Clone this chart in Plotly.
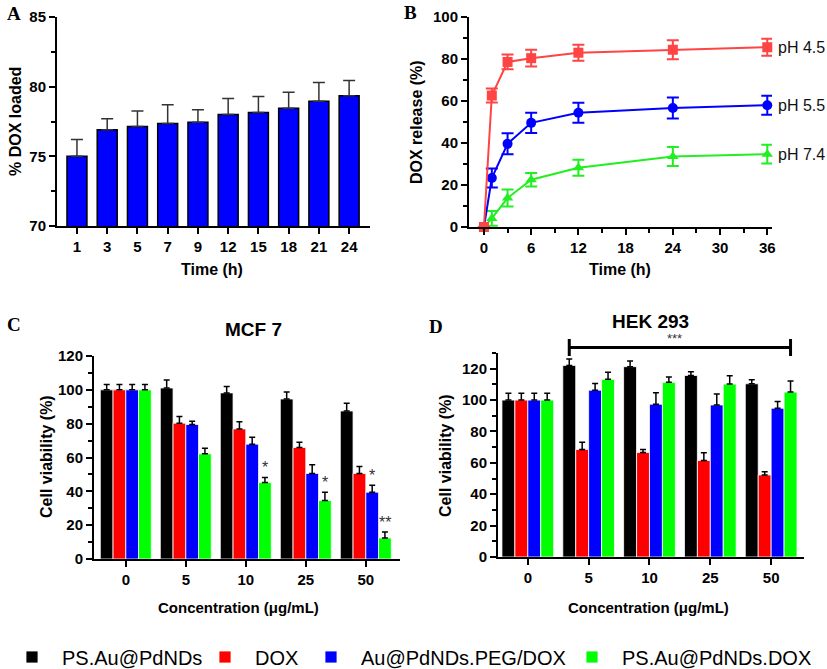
import plotly.graph_objects as go

W, H = 827, 669
FONT = "Liberation Sans, Arial, sans-serif"
SERIF = "Liberation Serif, Times New Roman, serif"

# ---------------- data ----------------
# Panel A
a_times = ["1", "3", "5", "7", "9", "12", "15", "18", "21", "24"]
a_loaded = [75.0, 76.9, 77.15, 77.35, 77.45, 78.0, 78.15, 78.45, 78.95, 79.35]
a_err = [1.2, 0.8, 1.1, 1.35, 0.9, 1.15, 1.15, 1.15, 1.35, 1.1]

# Panel B
b_time = [0, 1, 3, 6, 12, 24, 36]
b_ph45 = [0, 62.6, 78.6, 80.4, 83.0, 84.4, 85.6]
b_ph45_err = [0, 3.3, 3.5, 4.0, 3.8, 4.5, 4.0]
b_ph55 = [0, 23.3, 39.6, 49.6, 54.4, 56.7, 58.0]
b_ph55_err = [0, 4.5, 5.0, 4.8, 4.8, 5.0, 4.5]
b_ph74 = [0, 4.1, 13.8, 22.5, 28.2, 33.6, 34.7]
b_ph74_err = [0, 3.5, 4.0, 3.2, 3.8, 4.5, 4.5]
b_labels = ["pH 4.5", "pH 5.5", "pH 7.4"]

# Panels C and D
conc = ["0", "5", "10", "25", "50"]
series_names = ["PS.Au@PdNDs", "DOX", "Au@PdNDs.PEG/DOX", "PS.Au@PdNDs.DOX"]
series_colors = ["#000000", "#ff0000", "#0000ff", "#00ff00"]

c_ps = [100, 101.1, 98.2, 94.6, 87.5]
c_ps_err = [3.1, 4.7, 3.7, 4.1, 4.5]
c_dox = [100, 80.3, 76.9, 65.9, 50.6]
c_dox_err = [3.1, 4.0, 4.3, 3.1, 4.1]
c_peg = [100, 79.5, 67.9, 50.6, 39.5]
c_peg_err = [3.1, 2.0, 4.1, 5.1, 4.1]
c_psdox = [100, 62.2, 45.2, 34.6, 12.4]
c_psdox_err = [3.1, 3.3, 3.0, 4.9, 3.5]
c_stars = [(3, 2, "*"), (3, 3, "*"), (2, 4, "*"), (3, 4, "**")]

d_ps = [100, 122.1, 121.3, 115.7, 110.4]
d_ps_err = [4.3, 4.0, 3.6, 2.3, 2.6]
d_dox = [100, 68.5, 66.6, 61.5, 52.3]
d_dox_err = [4.3, 4.7, 1.9, 4.9, 2.1]
d_peg = [100, 106.3, 97.4, 96.9, 94.8]
d_peg_err = [4.3, 4.3, 7.2, 6.9, 4.3]
d_psdox = [100, 113.2, 111.3, 110.2, 105.1]
d_psdox_err = [4.3, 4.5, 3.4, 5.3, 7.0]
d_sig = "***"

# ---------------- layout helpers ----------------
def px(x):
    return x / W


def py(y):
    return 1 - y / H


dom = {
    "A": ([px(57), px(370)], [py(226), py(17)]),
    "B": ([px(469), px(772)], [py(227), py(17)]),
    "C": ([px(94), px(400)], [py(559), py(356)]),
    "D": ([px(498), px(804)], [py(557), py(353)]),
}
rng_x = {"A": [-0.66, 9.69], "B": [-1.9, 36.6], "C": [-0.53, 4.57], "D": [-0.49, 4.54]}
rng_y = {"A": [70, 85], "B": [0, 100], "C": [0, 120], "D": [0, 130]}
BARGAP = 0.15

fig = go.Figure()

# Panel A
fig.add_trace(go.Bar(
    x=list(range(len(a_times))), y=a_loaded, width=0.66,
    marker=dict(color="#0000ff", line=dict(color="#000000", width=1.5)),
    error_y=dict(type="data", array=a_err, arrayminus=[0] * len(a_err), symmetric=False,
                 color="#333333", thickness=1.5, width=6),
    xaxis="x", yaxis="y", showlegend=False))

# Panel B
b_sets = [
    (b_ph74, b_ph74_err, "#22ee22", "triangle-up"),
    (b_ph55, b_ph55_err, "#0000ff", "circle"),
    (b_ph45, b_ph45_err, "#ff4444", "square"),
]
for vals, errs, col, sym in b_sets:
    fig.add_trace(go.Scatter(
        x=b_time, y=vals, mode="lines+markers",
        line=dict(color=col, width=2), marker=dict(color=col, symbol=sym, size=10),
        error_y=dict(type="data", array=errs, color=col, thickness=2, width=6),
        xaxis="x2", yaxis="y2", showlegend=False, cliponaxis=False))

# Panels C and D
c_all = [(c_ps, c_ps_err), (c_dox, c_dox_err), (c_peg, c_peg_err), (c_psdox, c_psdox_err)]
d_all = [(d_ps, d_ps_err), (d_dox, d_dox_err), (d_peg, d_peg_err), (d_psdox, d_psdox_err)]
for i, ((cv, ce), (dv, de)) in enumerate(zip(c_all, d_all)):
    leg = "legend" if i == 0 else "legend%d" % (i + 1)
    fig.add_trace(go.Bar(
        x=list(range(len(conc))), y=cv, name=series_names[i],
        marker=dict(color=series_colors[i], line=dict(color="white", width=0.8)),
        error_y=dict(type="data", array=ce, arrayminus=[0] * len(ce), symmetric=False,
                     color="#000000", thickness=1.5, width=3),
        xaxis="x3", yaxis="y3", legend=leg, showlegend=True))
    fig.add_trace(go.Bar(
        x=list(range(len(conc))), y=dv, name=series_names[i],
        marker=dict(color=series_colors[i], line=dict(color="white", width=0.8)),
        error_y=dict(type="data", array=de, arrayminus=[0] * len(de), symmetric=False,
                     color="#000000", thickness=1.5, width=3),
        xaxis="x4", yaxis="y4", showlegend=False))


def bar_offset(j, n=4):
    gw = 1 - BARGAP
    return -gw / 2 + (j + 0.5) * gw / n


annotations = []
# stars in C
for j, g, txt in c_stars:
    vals, errs = c_all[j]
    annotations.append(dict(x=g + bar_offset(j), y=vals[g] + errs[g], xref="x3", yref="y3",
                            text=txt, showarrow=False, yanchor="bottom", yshift=-1,
                            font=dict(family=FONT, size=16, color="#333333")))

# pH labels in B
for lab_txt, vals in zip(b_labels, [b_ph45, b_ph55, b_ph74]):
    annotations.append(dict(x=b_time[-1], y=vals[-1], xref="x2", yref="y2", text=lab_txt,
                            showarrow=False, xanchor="left", xshift=9,
                            font=dict(family=FONT, size=16, color="#111111")))


def d2p_x(key, v):
    (d0, d1), r = dom[key][0], rng_x[key]
    return d0 + (v - r[0]) / (r[1] - r[0]) * (d1 - d0)


def d2p_y(key, v):
    (d0, d1), r = dom[key][1], rng_y[key]
    return d0 + (v - r[0]) / (r[1] - r[0]) * (d1 - d0)


# bracket in D
bx0 = d2p_x("D", 1 + bar_offset(0))
bx1 = d2p_x("D", 4 + bar_offset(3))
by = d2p_y("D", 133.5)
cap = 8.5 / H
shapes = [
    dict(type="line", xref="paper", yref="paper", x0=bx0, x1=bx1, y0=by, y1=by,
         line=dict(color="#000000", width=3)),
    dict(type="line", xref="paper", yref="paper", x0=bx0, x1=bx0, y0=by - cap, y1=by + cap,
         line=dict(color="#000000", width=3)),
    dict(type="line", xref="paper", yref="paper", x0=bx1, x1=bx1, y0=by - cap, y1=by + cap,
         line=dict(color="#000000", width=3)),
]
annotations.append(dict(x=(bx0 + bx1) / 2 + px(4), y=by, xref="paper", yref="paper", text=d_sig,
                        showarrow=False, yanchor="bottom", yshift=0,
                        font=dict(family=FONT, size=13, color="#333333")))


# titles / labels
def lab(text, x, y, size=16, angle=0, bold=True, family=FONT):
    annotations.append(dict(x=px(x), y=py(y), xref="paper", yref="paper", text=text,
                            showarrow=False, textangle=angle, xanchor="center", yanchor="middle",
                            font=dict(family=family, size=size, color="#000000",
                                      weight="bold" if bold else "normal")))


lab("% DOX loaded", 15, 122, angle=-90)
lab("Time (h)", 212, 269)
lab("DOX release (%)", 416, 122, angle=-90)
lab("Time (h)", 620, 269)
lab("Cell viability (%)", 46, 457, angle=-90)
lab("Concentration (μg/mL)", 238, 607, size=15)
lab("Cell viability (%)", 445, 455, angle=-90)
lab("Concentration (μg/mL)", 648, 607, size=15)
lab("MCF 7", 253, 329, size=19)
lab("HEK 293", 650, 321, size=19)
lab("A", 14, 13, size=19, family=SERIF)
lab("B", 410, 12, size=19, family=SERIF)
lab("C", 14, 324, size=19, family=SERIF)
lab("D", 436, 326, size=19, family=SERIF)

TICKF = dict(family=FONT, size=15, color="#000000", weight="bold")
axis_common = dict(showline=True, linecolor="#000000", linewidth=2, ticks="outside",
                   tickcolor="#000000", tickwidth=2, ticklen=6, showgrid=False,
                   zeroline=False, tickfont=TICKF, fixedrange=True)
MINOR = dict(ticks="outside", ticklen=4, tickwidth=2, tickcolor="#000000")

layout = dict(
    width=W, height=H, margin=dict(l=0, r=0, t=0, b=0, autoexpand=False),
    paper_bgcolor="white", plot_bgcolor="white",
    barmode="group", bargap=BARGAP, bargroupgap=0,
    annotations=annotations, shapes=shapes,
    xaxis=dict(axis_common, domain=dom["A"][0], range=rng_x["A"], anchor="y",
               tickvals=list(range(len(a_times))), ticktext=a_times),
    yaxis=dict(axis_common, domain=dom["A"][1], range=rng_y["A"], anchor="x",
               tickvals=[70, 75, 80, 85], minor=dict(MINOR, dtick=2.5, tick0=70)),
    xaxis2=dict(axis_common, domain=dom["B"][0], range=rng_x["B"], anchor="y2",
                tickvals=[0, 6, 12, 18, 24, 30, 36], minor=dict(MINOR, dtick=3, tick0=0)),
    yaxis2=dict(axis_common, domain=dom["B"][1], range=rng_y["B"], anchor="x2",
                tickvals=[0, 20, 40, 60, 80, 100], minor=dict(MINOR, dtick=10, tick0=0)),
    xaxis3=dict(axis_common, domain=dom["C"][0], range=rng_x["C"], anchor="y3",
                tickvals=list(range(len(conc))), ticktext=conc),
    yaxis3=dict(axis_common, domain=dom["C"][1], range=rng_y["C"], anchor="x3",
                tickvals=[0, 20, 40, 60, 80, 100, 120], minor=dict(MINOR, dtick=10, tick0=0)),
    xaxis4=dict(axis_common, domain=dom["D"][0], range=rng_x["D"], anchor="y4",
                tickvals=list(range(len(conc))), ticktext=conc),
    yaxis4=dict(axis_common, domain=dom["D"][1], range=rng_y["D"], anchor="x4",
                tickvals=[0, 20, 40, 60, 80, 100, 120], minor=dict(MINOR, dtick=10, tick0=0)),
)

# four separate legends placed along the bottom
leg_centers = [31, 224, 330, 591]
LEGF = dict(family=FONT, size=20, color="#000000")
for i, cx in enumerate(leg_centers):
    key = "legend" if i == 0 else "legend%d" % (i + 1)
    layout[key] = dict(x=px(cx - 29), y=py(657), xanchor="left", yanchor="middle",
                       orientation="h", font=LEGF, itemwidth=50, bgcolor="rgba(0,0,0,0)",
                       borderwidth=0, itemclick=False, itemdoubleclick=False)

fig.update_layout(layout)
fig.write_html("out.html", config={"displayModeBar": False},
               post_script="document.body.style.margin='0';document.body.style.overflow='hidden';")
